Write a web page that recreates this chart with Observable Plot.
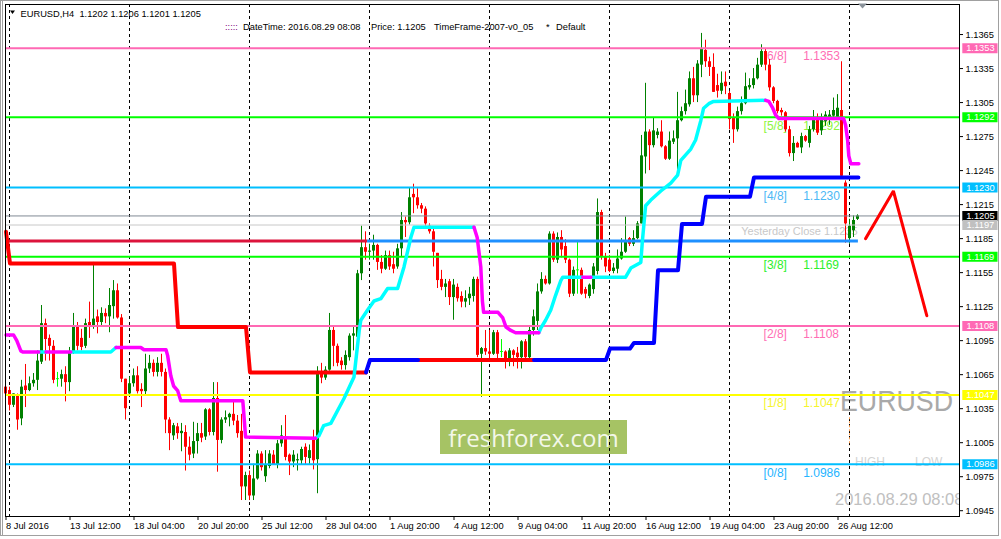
<!DOCTYPE html>
<html><head><meta charset="utf-8">
<script src="https://cdn.jsdelivr.net/npm/d3@7"></script>
<script src="https://cdn.jsdelivr.net/npm/@observablehq/plot@0.6"></script>
<style>
html,body{margin:0;padding:0;background:#fff;}
#chart{position:relative;width:1001px;height:539px;overflow:hidden;}
</style></head><body><div id="chart"></div>
<script>
// ---- EURUSD H4 candles [open, high, low, close], grouped by trading week ----
const week0 = [[1.1054,1.1056,1.1038,1.1048]];
const week1 = [
[1.1051,1.1054,1.1033,1.1038],[1.1038,1.1048,1.1036,1.1048],[1.1047,1.1048,1.1016,1.1025],[1.1026,1.1060,1.1020,1.1054],
[1.1055,1.1074,1.1036,1.1051],[1.1051,1.1063,1.1050,1.1057],[1.1057,1.1066,1.1054,1.1060],[1.1060,1.1086,1.1051,1.1077],
[1.1076,1.1126,1.1074,1.1110],[1.1110,1.1114,1.1077,1.1096],[1.1097,1.1100,1.1077,1.1090],[1.1090,1.1095,1.1057,1.1060],
[1.1061,1.1067,1.1054,1.1061],[1.1061,1.1069,1.1054,1.1065],[1.1065,1.1072,1.1041,1.1058],[1.1058,1.1089,1.1050,1.1085],
[1.1085,1.1119,1.1083,1.1108],[1.1108,1.1111,1.1086,1.1090],[1.1097,1.1105,1.1086,1.1089],[1.1090,1.1114,1.1088,1.1110],
[1.1111,1.1129,1.1097,1.1107],[1.1107,1.1164,1.1105,1.1114],[1.1116,1.1122,1.1101,1.1111],[1.1111,1.1124,1.1108,1.1119],
[1.1119,1.1123,1.1110,1.1116],[1.1116,1.1141,1.1102,1.1126],[1.1125,1.1148,1.1114,1.1139],[1.1139,1.1145,1.1114,1.1115],
[1.1115,1.1118,1.1058,1.1061],[1.1061,1.1061,1.1025,1.1035]];
const week2 = [
[1.1048,1.1063,1.1047,1.1057],[1.1057,1.1070,1.1054,1.1064],[1.1064,1.1072,1.1048,1.1050],[1.1052,1.1057,1.1036,1.1050],
[1.1050,1.1083,1.1047,1.1070],[1.1070,1.1082,1.1066,1.1075],[1.1075,1.1078,1.1063,1.1067],[1.1067,1.1080,1.1063,1.1075],
[1.1075,1.1083,1.1063,1.1067],[1.1067,1.1070,1.1013,1.1025],[1.1025,1.1027,1.0998,1.1013],[1.1011,1.1022,1.1007,1.1020],
[1.1019,1.1022,1.1008,1.1013],[1.1013,1.1022,1.0997,1.1015],[1.1014,1.1020,1.0980,1.1001],[1.1001,1.1010,1.0989,1.0994],
[1.0995,1.1023,1.0991,1.1006],[1.1006,1.1022,1.0995,1.1013],[1.1013,1.1022,1.1005,1.1009],[1.1010,1.1035,1.1007,1.1034],
[1.1034,1.1035,1.1011,1.1014],[1.1014,1.1058,1.1011,1.1044],[1.1044,1.1058,1.0979,1.1007],[1.1007,1.1027,1.1004,1.1025],
[1.1025,1.1033,1.1022,1.1027],[1.1027,1.1031,1.1019,1.1030],[1.1030,1.1042,1.1020,1.1024],[1.1024,1.1029,1.1009,1.1013],
[1.1015,1.1030,1.0954,1.0966],[1.0966,1.0979,1.0954,1.0976]];
const week3 = [
[1.0976,1.0980,1.0954,1.0958],[1.0958,1.0986,1.0954,1.0973],[1.0973,1.0998,1.0972,1.0995],[1.0995,1.0997,1.0980,1.0983],
[1.0975,1.0998,1.0970,1.0985],[1.0984,1.0998,1.0982,1.0995],[1.0994,1.0998,1.0985,1.0985],[1.0985,1.1007,1.0982,1.1004],
[1.1004,1.1020,1.1001,1.1011],[1.1010,1.1029,1.0989,1.0992],[1.0994,1.0995,1.0976,1.0988],[1.0988,1.0998,1.0983,1.0994],
[1.0989,1.0995,1.0980,1.0990],[1.0989,1.1001,1.0985,1.0999],[1.1001,1.1004,1.0985,1.0992],[1.0991,1.1003,1.0986,1.0998],
[1.1007,1.1016,1.0981,1.0989],[1.0990,1.1072,1.0960,1.1066],[1.1066,1.1075,1.1057,1.1062],[1.1062,1.1072,1.1060,1.1069],
[1.1069,1.1119,1.1068,1.1104],[1.1104,1.1107,1.1072,1.1090],[1.1090,1.1092,1.1072,1.1075],[1.1077,1.1080,1.1069,1.1073],
[1.1073,1.1086,1.1069,1.1082],[1.1080,1.1101,1.1077,1.1099],[1.1099,1.1108,1.1086,1.1101],[1.1098,1.1157,1.1095,1.1154],
[1.1154,1.1196,1.1148,1.1177],[1.1177,1.1191,1.1166,1.1173]];
const week4 = [
[1.1173,1.1180,1.1166,1.1174],[1.1174,1.1188,1.1166,1.1179],[1.1179,1.1180,1.1157,1.1164],[1.1164,1.1170,1.1154,1.1158],
[1.1158,1.1174,1.1157,1.1170],[1.1170,1.1174,1.1157,1.1160],[1.1162,1.1173,1.1154,1.1158],[1.1160,1.1180,1.1158,1.1176],
[1.1176,1.1208,1.1169,1.1201],[1.1201,1.1204,1.1186,1.1199],[1.1199,1.1230,1.1197,1.1221],[1.1224,1.1233,1.1207,1.1221],
[1.1221,1.1229,1.1211,1.1214],[1.1214,1.1216,1.1207,1.1211],[1.1211,1.1213,1.1196,1.1198],[1.1196,1.1198,1.1189,1.1191],
[1.1191,1.1194,1.1160,1.1173],[1.1172,1.1172,1.1141,1.1148],[1.1149,1.1157,1.1139,1.1142],[1.1142,1.1149,1.1133,1.1145],
[1.1147,1.1149,1.1126,1.1133],[1.1133,1.1149,1.1113,1.1144],[1.1142,1.1145,1.1129,1.1132],[1.1134,1.1138,1.1124,1.1129],
[1.1129,1.1139,1.1124,1.1132],[1.1132,1.1142,1.1126,1.1136],[1.1134,1.1151,1.1129,1.1149],[1.1149,1.1151,1.1080,1.1082],
[1.1083,1.1089,1.1045,1.1088],[1.1088,1.1104,1.1082,1.1085]];
const week5 = [
[1.1085,1.1104,1.1079,1.1083],[1.1083,1.1104,1.1082,1.1102],[1.1102,1.1104,1.1079,1.1083],[1.1085,1.1096,1.1080,1.1085],
[1.1085,1.1086,1.1070,1.1076],[1.1076,1.1088,1.1072,1.1086],[1.1086,1.1087,1.1072,1.1082],[1.1084,1.1089,1.1070,1.1080],
[1.1080,1.1095,1.1070,1.1094],[1.1094,1.1096,1.1077,1.1080],[1.1080,1.1107,1.1078,1.1104],[1.1104,1.1122,1.1099,1.1116],
[1.1112,1.1145,1.1104,1.1138],[1.1138,1.1155,1.1136,1.1149],[1.1149,1.1152,1.1144,1.1145],[1.1145,1.1191,1.1144,1.1189],
[1.1189,1.1191,1.1164,1.1166],[1.1166,1.1190,1.1163,1.1186],[1.1186,1.1192,1.1168,1.1175],[1.1178,1.1184,1.1163,1.1166],
[1.1166,1.1167,1.1133,1.1136],[1.1136,1.1160,1.1134,1.1157],[1.1157,1.1182,1.1136,1.1157],[1.1157,1.1159,1.1135,1.1136],
[1.1140,1.1142,1.1132,1.1136],[1.1134,1.1145,1.1132,1.1144],[1.1140,1.1163,1.1136,1.1160],[1.1156,1.1220,1.1153,1.1208],
[1.1208,1.1210,1.1166,1.1169],[1.1169,1.1172,1.1155,1.1160]];
const week6 = [
[1.1166,1.1170,1.1155,1.1156],[1.1156,1.1163,1.1154,1.1159],[1.1158,1.1175,1.1154,1.1167],[1.1167,1.1185,1.1166,1.1173],
[1.1173,1.1204,1.1172,1.1182],[1.1185,1.1186,1.1178,1.1180],[1.1180,1.1192,1.1178,1.1185],[1.1185,1.1200,1.1184,1.1198],
[1.1198,1.1276,1.1198,1.1258],[1.1257,1.1322,1.1242,1.1279],[1.1279,1.1281,1.1245,1.1267],[1.1267,1.1291,1.1265,1.1280],
[1.1276,1.1282,1.1273,1.1279],[1.1279,1.1289,1.1265,1.1266],[1.1266,1.1267,1.1254,1.1255],[1.1255,1.1279,1.1254,1.1271],
[1.1270,1.1280,1.1268,1.1273],[1.1273,1.1314,1.1245,1.1289],[1.1289,1.1301,1.1288,1.1297],[1.1297,1.1316,1.1294,1.1304],
[1.1303,1.1332,1.1301,1.1326],[1.1326,1.1336,1.1305,1.1311],[1.1311,1.1342,1.1305,1.1339],[1.1338,1.1366,1.1327,1.1352],
[1.1351,1.1360,1.1336,1.1341],[1.1341,1.1345,1.1328,1.1336],[1.1336,1.1348,1.1314,1.1314],[1.1320,1.1330,1.1309,1.1315],
[1.1315,1.1332,1.1312,1.1322],[1.1323,1.1332,1.1312,1.1319]];
const week7 = [
[1.1313,1.1315,1.1281,1.1290],[1.1291,1.1295,1.1269,1.1281],[1.1281,1.1301,1.1279,1.1297],[1.1297,1.1310,1.1294,1.1304],
[1.1304,1.1331,1.1303,1.1319],[1.1318,1.1326,1.1316,1.1320],[1.1320,1.1335,1.1317,1.1326],[1.1326,1.1344,1.1325,1.1338],
[1.1338,1.1356,1.1336,1.1350],[1.1350,1.1352,1.1333,1.1338],[1.1338,1.1343,1.1315,1.1318],[1.1318,1.1319,1.1304,1.1306],
[1.1306,1.1307,1.1295,1.1297],[1.1298,1.1300,1.1293,1.1296],[1.1296,1.1297,1.1279,1.1281],[1.1281,1.1284,1.1257,1.1260],
[1.1260,1.1275,1.1253,1.1269],[1.1269,1.1270,1.1265,1.1265],[1.1265,1.1278,1.1260,1.1275],[1.1275,1.1276,1.1270,1.1271],
[1.1269,1.1284,1.1265,1.1281],[1.1281,1.1298,1.1279,1.1290],[1.1290,1.1295,1.1276,1.1278],[1.1280,1.1295,1.1276,1.1290],
[1.1288,1.1297,1.1284,1.1294],[1.1290,1.1298,1.1285,1.1294],[1.1293,1.1309,1.1291,1.1298],[1.1292,1.1312,1.1291,1.1300],
[1.1298,1.1341,1.1238,1.1240],[1.1234,1.1236,1.1181,1.1198]];
const week8 = [[1.1185,1.1202,1.1180,1.1196],[1.1192,1.1205,1.1186,1.1201],[1.1202,1.1206,1.1201,1.1205]];

// ---- Murrey math levels ----
const levelNames  = ["[6/8]","[5/8]","[4/8]","[3/8]","[2/8]","[1/8]","[0/8]"];
const levelValues = [1.1353,1.1292,1.1230,1.1169,1.1108,1.1047,1.0986];
const levelLineColors = ["#ff69b4","#00ff00","#00bfff","#00ff00","#ff69b4","#ffff00","#00bfff"];
const levelTextColors = ["#ff6eb4","#8cf53c","#4cb8f5","#2cf02c","#ff6eb4","#f5f52c","#25b4ff"];

// price markers
const bidPrice = 1.1205;
const prevPrice = 1.1197;
const yesterdayLevel = 1.1183;
const yesterdayText = "Yesterday Close 1.1235";

// ---- indicator vertices [bar index, price] ----
const stepRed1  = [[0,1.1191],[1,1.1163],[42,1.1163],[43,1.1107],[60,1.1107],[61,1.1067],[90,1.1067]];
const stepBlue1 = [[90,1.1067],[91,1.1078],[103,1.1078]];
const stepRed2  = [[103,1.1078],[132,1.1078]];
const stepBlue2 = [[132,1.1078],[150,1.1078],[151,1.1088],[156,1.1088],[157,1.1093],[162,1.1093],[163,1.1157],
  [168,1.1157],[169,1.1198],[174,1.1198],[175,1.1222],[186,1.1222],[187,1.1239],[213.1,1.1239]];
// trailing line: [index, price, colour of the segment that starts here]
const trail = [
[0,1.1100,"m"],[1.9,1.1100,"m"],[2.7,1.1095,"m"],[3.7,1.1086,"m"],[4.2,1.1085,"m"],[8.2,1.1085,"c"],[10,1.1085,"m"],
[16.2,1.1085,"c"],[26.2,1.1085,"c"],[27.5,1.1089,"m"],[33.7,1.1089,"m"],[34.5,1.1087,"m"],[40,1.1087,"m"],
[40.4,1.1082,"m"],[41.2,1.1064,"m"],[41.9,1.1055,"m"],[42.9,1.1051,"m"],[43.7,1.1042,"m"],[59.2,1.1042,"m"],
[59.9,1.1010,"m"],[77.4,1.1009,"c"],[78.2,1.1011,"c"],[79.4,1.1020,"c"],[81.2,1.1022,"c"],[84.5,1.1044,"c"],
[87,1.1063,"c"],[88.3,1.1104,"c"],[88.7,1.1113,"c"],[90.4,1.1122,"c"],[92,1.1130,"c"],[93.7,1.1132,"c"],
[95.4,1.1141,"c"],[97.9,1.1141,"c"],[99.5,1.1160,"c"],[101.2,1.1186,"c"],[102,1.1195,"c"],[117,1.1195,"m"],
[117.8,1.1186,"m"],[118.7,1.1160,"m"],[119.1,1.1130,"m"],[119.4,1.1120,"m"],[123,1.1120,"m"],[124.2,1.1115,"m"],
[125,1.1107,"m"],[126.2,1.1104,"m"],[127.4,1.1102,"m"],[133.2,1.1102,"c"],[133.7,1.1106,"c"],[134.9,1.1113,"c"],
[136.2,1.1122,"c"],[137.4,1.1135,"c"],[138.7,1.1148,"c"],[139.2,1.1151,"c"],[144.2,1.1151,"m"],[146.2,1.1151,"c"],
[154.9,1.1151,"c"],[156.2,1.1159,"c"],[158.7,1.1164,"c"],[159.1,1.1183,"c"],[159.9,1.1214,"c"],[161.2,1.1219,"c"],
[163.7,1.1227,"c"],[166.2,1.1234,"c"],[167.9,1.1241,"c"],[168.7,1.1254,"c"],[171.2,1.1264,"c"],[172.4,1.1272,"c"],
[173.7,1.1289,"c"],[174.4,1.1300,"c"],[175.7,1.1304,"c"],[176.9,1.1306,"c"],[189.9,1.1307,"m"],[190.7,1.1306,"m"],
[191.7,1.1300,"m"],[192.4,1.1294,"m"],[193.2,1.1291,"m"],[209.4,1.1291,"m"],[209.9,1.1285,"m"],[210.4,1.1272,"m"],
[210.7,1.1258,"m"],[211.2,1.1251,"m"],[213.2,1.1251,"m"]];
const projection = [[214.9,1.1185],[221.85,1.1227],[230.2,1.1117]];

// ---- axes ----
const yTicks = [1.1365,1.1335,1.1305,1.1275,1.1245,1.1215,1.1185,1.1155,1.1125,1.1095,1.1065,1.1035,1.1005,1.0975,1.0945];
const xTickIdx = [0,16,32,48,64,80,96,112,128,144,160,176,192,208];
const xTickText = ["8 Jul 2016","13 Jul 12:00","18 Jul 04:00","20 Jul 20:00","25 Jul 12:00","28 Jul 04:00","1 Aug 20:00",
  "4 Aug 12:00","9 Aug 04:00","11 Aug 20:00","16 Aug 12:00","19 Aug 04:00","23 Aug 20:00","26 Aug 12:00"];
const weekStarts = [1,31,61,91,121,151,181,211];

// ---- build tables ----
const candles = [week0,week1,week2,week3,week4,week5,week6,week7,week8].flat().map((d,i)=>{
  const [open,high,low,close]=d;
  const col = close>open ? "#008000" : close<open ? "#ff0000" : "#00ff00";
  let lo=Math.min(open,close), hi=Math.max(open,close);
  if (hi-lo<0.00008){const m=(hi+lo)/2; lo=m-0.00004; hi=m+0.00004;}
  return {i,open,high,low,close,col,lo,hi};
});
const levels = levelValues.map((v,k)=>({v,name:levelNames[k],line:levelLineColors[k],txt:levelTextColors[k]}));
const boxes = [...levels.map(l=>({v:l.v,bg:l.line})),{v:bidPrice,bg:"#000000"},{v:prevPrice,bg:"#c0c0c0"}];
const toRows = (pts,id)=>pts.map(p=>({i:p[0],p:p[1],id}));
function runs(verts){
  const out=[];let cur=null;
  for(let k=0;k<verts.length-1;k++){
    const col=verts[k][2];
    if(!cur||cur.col!==col){cur={col,pts:[verts[k]]};out.push(cur);}
    cur.pts.push(verts[k+1]);
  }
  return out.flatMap((r,ri)=>r.pts.map(p=>({i:p[0],p:p[1],col:r.col,id:ri})));
}
const trailRows = runs(trail);
const xLabel = new Map(xTickIdx.map((d,k)=>[d,xTickText[k]]));

const FONT = "'Liberation Sans', Arial, sans-serif";
const svg = Plot.plot({
  width:1001, height:539, marginLeft:5, marginRight:42, marginTop:4, marginBottom:23,
  x:{domain:[-0.125,238.375], axis:null},
  y:{domain:[1.09399,1.13915], axis:null},
  color:{type:"identity"},
  style:{fontFamily:FONT, fontSize:"9.3px", background:"transparent", color:"#000", overflow:"visible"},
  marks:[
    Plot.text(levels,{x:189.4,y:"v",text:"name",dy:8.5,fill:"txt",fontSize:12,textAnchor:"start"}),
    Plot.text(levels,{x:199.3,y:"v",text:d=>d.v.toFixed(4),dy:8.5,fill:"txt",fontSize:12,textAnchor:"start"}),
    Plot.text([yesterdayLevel],{x:212.9,y:d=>d,text:()=>yesterdayText,dy:-9.5,fill:"#c8c8c8",fontSize:11,textAnchor:"end"}),
    Plot.ruleX(weekStarts,{x:d=>d,stroke:"#000",strokeWidth:1,strokeDasharray:"3,3",dx:-0.5}),
    Plot.ruleX([211],{x:d=>d,y1:1.1027,y2:1.1002,stroke:"#ffa050",strokeDasharray:"2,2",dx:-0.5}),
    Plot.rect(candles,{x1:d=>d.i-0.125,x2:d=>d.i+0.125,y1:"low",y2:"high",fill:"col"}),
    Plot.rect(candles,{x1:d=>d.i-0.375,x2:d=>d.i+0.375,y1:"lo",y2:"hi",fill:"col"}),
    Plot.ruleY(levels,{y:"v",stroke:"line",strokeWidth:2}),
    Plot.ruleY([bidPrice],{y:d=>d,stroke:"#808a94",strokeWidth:1}),
    Plot.ruleY([prevPrice],{y:d=>d,stroke:"#c8c8c8",strokeWidth:1}),
    Plot.ruleY([yesterdayLevel],{y:d=>d,x1:-0.125,x2:90.4,stroke:"#dc143c",strokeWidth:3}),
    Plot.ruleY([yesterdayLevel],{y:d=>d,x1:90.4,x2:213.1,stroke:"#1e90ff",strokeWidth:3}),
    Plot.line([...toRows(stepRed1,0),...toRows(stepRed2,1)],{x:"i",y:"p",z:"id",stroke:"#ff0000",strokeWidth:4,strokeLinejoin:"round"}),
    Plot.line([...toRows(stepBlue1,0),...toRows(stepBlue2,1)],{x:"i",y:"p",z:"id",stroke:"#0000ff",strokeWidth:4,strokeLinejoin:"round"}),
    Plot.line(trailRows.filter(d=>d.col==="c"),{x:"i",y:"p",z:"id",stroke:"#00ffff",strokeWidth:3.5,strokeLinejoin:"round"}),
    Plot.line(trailRows.filter(d=>d.col==="m"),{x:"i",y:"p",z:"id",stroke:"#ff00ff",strokeWidth:3.5,strokeLinejoin:"round"}),
    Plot.line(toRows(projection,0),{x:"i",y:"p",stroke:"#ff0000",strokeWidth:3,strokeLinejoin:"miter"}),
    Plot.axisY({ticks:yTicks,anchor:"right",tickSize:3,tickPadding:3,tickFormat:d=>d.toFixed(4),fontSize:"9.3px",label:null}),
    Plot.axisX({ticks:xTickIdx,anchor:"bottom",tickSize:4,tickPadding:2,tickFormat:d=>xLabel.get(d),textAnchor:"start",fontSize:"9.3px",label:null}),
    Plot.ruleY(boxes,{y:"v",x1:239.2,x2:248.0,stroke:"bg",strokeWidth:10}),
    Plot.text(boxes,{y:"v",x:243.6,text:d=>d.v.toFixed(4),fill:"#ffffff",fontSize:9.3}),
    Plot.frame({stroke:"#000"})
  ]
});
document.getElementById("chart").appendChild(svg);

// ---- decorations (watermark, captions, header) ----
const s = d3.select(svg);
const defs = s.insert("defs",":scope > g");
defs.append("clipPath").attr("id","plotclip").append("rect").attr("x",5).attr("y",4).attr("width",954).attr("height",512);
const bgLayer = s.insert("g",":scope > g").attr("font-family",FONT).attr("text-anchor","start");
bgLayer.append("rect").attr("x",440).attr("y",420).attr("width",187).attr("height",34).attr("fill","#a6c364");
bgLayer.append("text").attr("x",533.5).attr("y",447).attr("text-anchor","middle").attr("font-family","'Open Sans', sans-serif")
  .attr("font-size",24).attr("fill","#f3f7e8").text("freshforex.com");
bgLayer.append("text").attr("x",840).attr("y",411).attr("font-size",29).attr("fill","#a9a9a9")
  .attr("textLength",113).attr("lengthAdjust","spacingAndGlyphs").text("EURUSD");
bgLayer.append("text").attr("x",855).attr("y",466).attr("font-size",12).attr("fill","#d3d3d3").text("HIGH");
bgLayer.append("text").attr("x",915).attr("y",466).attr("font-size",12).attr("fill","#d3d3d3").text("LOW");
bgLayer.append("text").attr("x",835).attr("y",505).attr("font-size",16.5).attr("fill","#c0c0c0")
  .attr("clip-path","url(#plotclip)").text("2016.08.29 08:08");

const hdr = s.append("g").attr("font-family",FONT).attr("font-size",9.3).attr("fill","#000").attr("text-anchor","start");
hdr.append("path").attr("d","M10,10.5 L15,10.5 L12.5,14 Z").attr("fill","#000");
hdr.append("text").attr("x",20.5).attr("y",16.5).attr("style","white-space:pre").text("EURUSD,H4  1.1202 1.1206 1.1201 1.1205");
hdr.append("text").attr("x",225).attr("y",29.5).attr("fill","#800080").text(":::::");
hdr.append("text").attr("x",243).attr("y",29.5).text("DateTime: 2016.08.29 08:08");
hdr.append("text").attr("x",371).attr("y",29.5).text("Price: 1.1205");
hdr.append("text").attr("x",434).attr("y",29.5).text("TimeFrame-2007-v0_05");
hdr.append("text").attr("x",546).attr("y",29.5).text("*");
hdr.append("text").attr("x",556).attr("y",29.5).text("Default");
hdr.append("path").attr("d","M858,3.5 L867,3.5 L862.5,8.5 Z").attr("fill","#8a929a");
// window border
s.append("rect").attr("x",0.5).attr("y",0.5).attr("width",998).attr("height",535).attr("fill","none").attr("stroke","#a0a0a0");
s.append("line").attr("x1",2.5).attr("x2",2.5).attr("y1",1).attr("y2",535).attr("stroke","#a0a0a0");
</script></body></html>
